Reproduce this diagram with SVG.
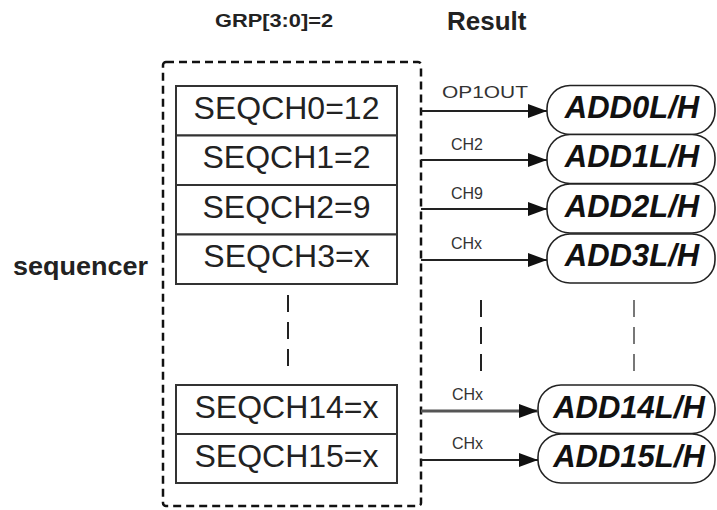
<svg xmlns="http://www.w3.org/2000/svg" width="717" height="510" viewBox="0 0 717 510">
<style>
.bg{fill:#fff}
.reg{fill:#fff;stroke:#333;stroke-width:2}
.regt{font-family:"Liberation Sans",Arial,sans-serif;font-size:32px;fill:#222;text-anchor:middle}
.pill{fill:#fff;stroke:#222;stroke-width:1.6}
.pillt{font-family:"Liberation Sans",Arial,sans-serif;font-size:31px;font-weight:bold;font-style:italic;fill:#111;text-anchor:middle}
.lbl{font-family:"Liberation Sans",Arial,sans-serif;font-size:16px;fill:#333}
.hdr{font-family:"Liberation Sans",Arial,sans-serif;font-weight:bold;fill:#222}
.conn{stroke:#222;stroke-width:2;fill:none;marker-end:url(#ah)}
.frame{fill:none;stroke:#111;stroke-width:2.5;stroke-dasharray:8 5}
.dots{stroke:#222;stroke-width:2;stroke-dasharray:17 10;fill:none}
</style>
<defs>
<marker id="ah" markerUnits="userSpaceOnUse" markerWidth="20" markerHeight="14" refX="19" refY="7" orient="auto">
<polygon points="0,0 19,7 0,14" fill="#111"/>
</marker>
</defs>
<rect class="bg" x="0" y="0" width="717" height="510"/>

<g id="headers">
<text class="hdr" x="215" y="27" font-size="19" textLength="118" lengthAdjust="spacingAndGlyphs">GRP[3:0]=2</text>
<text class="hdr" x="447" y="30" font-size="26">Result</text>
<text class="hdr" x="13" y="275" font-size="25" textLength="135" lengthAdjust="spacingAndGlyphs">sequencer</text>
</g>

<g id="sequencer-frame">
<rect class="frame" x="163" y="62" width="258" height="444" rx="3"/>
</g>

<g id="seqch0"><rect class="reg" x="176" y="86" width="221" height="49.5"/><text class="regt" x="286.5" y="119">SEQCH0=12</text></g>
<g id="seqch1"><rect class="reg" x="176" y="135.5" width="221" height="49.5"/><text class="regt" x="286.5" y="168">SEQCH1=2</text></g>
<g id="seqch2"><rect class="reg" x="176" y="185" width="221" height="49.5"/><text class="regt" x="286.5" y="218">SEQCH2=9</text></g>
<g id="seqch3"><rect class="reg" x="176" y="234.5" width="221" height="49.5"/><text class="regt" x="286.5" y="267">SEQCH3=x</text></g>
<g id="seqch14"><rect class="reg" x="176" y="385" width="221" height="49"/><text class="regt" x="286.5" y="418">SEQCH14=x</text></g>
<g id="seqch15"><rect class="reg" x="176" y="434" width="221" height="49"/><text class="regt" x="286.5" y="467">SEQCH15=x</text></g>

<g id="add0"><rect class="pill" x="547" y="85.5" width="168" height="49" rx="23"/><text class="pillt" x="632" y="118">ADD0L/H</text></g>
<g id="add1"><rect class="pill" x="547" y="134.5" width="168" height="49" rx="23"/><text class="pillt" x="632" y="167">ADD1L/H</text></g>
<g id="add2"><rect class="pill" x="547" y="184" width="168" height="49" rx="23"/><text class="pillt" x="632" y="217">ADD2L/H</text></g>
<g id="add3"><rect class="pill" x="547" y="234" width="168" height="49" rx="23"/><text class="pillt" x="632" y="266">ADD3L/H</text></g>
<g id="add14"><rect class="pill" x="538" y="385" width="177" height="48.5" rx="23"/><text class="pillt" x="629" y="418">ADD14L/H</text></g>
<g id="add15"><rect class="pill" x="538" y="434" width="177" height="49" rx="23"/><text class="pillt" x="629" y="467">ADD15L/H</text></g>

<g id="connectors">
<line class="conn" x1="421" y1="111" x2="547" y2="111"/>
<line class="conn" x1="421" y1="160" x2="547" y2="160"/>
<line class="conn" x1="421" y1="209" x2="547" y2="209"/>
<line class="conn" x1="421" y1="260" x2="547" y2="260"/>
<line class="conn" x1="421" y1="411" x2="538" y2="411" style="stroke:#555;stroke-width:3"/>
<line class="conn" x1="421" y1="460" x2="538" y2="460"/>
<text class="lbl" x="442" y="98" font-size="17" textLength="86" lengthAdjust="spacingAndGlyphs">OP1OUT</text>
<text class="lbl" x="451" y="150">CH2</text>
<text class="lbl" x="451" y="199">CH9</text>
<text class="lbl" x="451" y="249">CHx</text>
<text class="lbl" x="452" y="400">CHx</text>
<text class="lbl" x="452" y="449">CHx</text>
</g>

<g id="ellipsis">
<line class="dots" x1="288" y1="295" x2="288" y2="367"/>
<line class="dots" x1="481" y1="300" x2="481" y2="372"/>
<line class="dots" x1="634" y1="300" x2="634" y2="372" style="stroke:#777"/>
</g>
</svg>
